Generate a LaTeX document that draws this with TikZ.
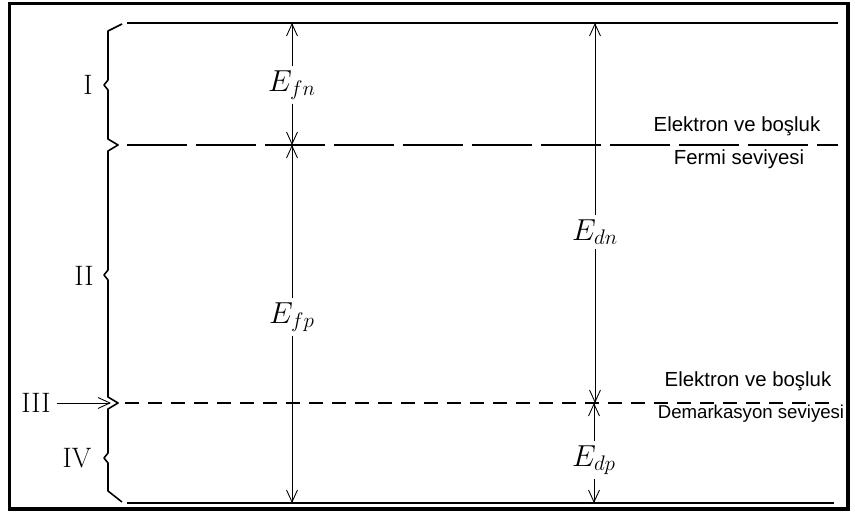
\documentclass[tikz,border=0pt]{standalone}
\usepackage{fontspec}
\newfontfamily\notefont{Liberation Sans}
\usetikzlibrary{arrows.meta, positioning}

\tikzset{
    % level lines
    level/.style={line width=1.1pt, draw=black},
    fermilevel/.style={level, line width=0.9pt, dash pattern=on 1.2cm off 0.18cm},
    demlevel/.style={level, line width=0.9pt, dash pattern=on 0.28cm off 0.18cm},
    % energy spans
    span/.style={-{Straight Barb[length=2.4mm, width=2.2mm]}, line width=0.5pt},
    energy/.style={inner sep=2pt, font=\fontsize{17}{20}\selectfont},
    region/.style={inner sep=1pt, font=\fontsize{16}{19}\selectfont},
    note/.style={inner sep=1pt, font=\notefont\fontsize{11.6}{14}\selectfont},
    brace/.style={line width=0.9pt, line join=round},
    frame/.style={line width=1.8pt}
}

\begin{document}
\begin{tikzpicture}[x=0.02cm, y=-0.02cm]
    \useasboundingbox (0,0) rectangle (855,519);
    \draw[frame] (9.5,3.5) rectangle (848,509);

    % level end points
    \coordinate (top-l) at (127,23);
    \coordinate (top-r) at (838,23);
    \coordinate (fermi-l) at (127,145);
    \coordinate (fermi-r) at (838,145);
    \coordinate (dem-l) at (125,403);
    \coordinate (dem-r) at (836,403);
    \coordinate (bot-l) at (127,503);
    \coordinate (bot-r) at (834,503);

    \draw[level] (top-l) -- (top-r);
    \draw[fermilevel] (fermi-l) -- (fermi-r);
    \draw[demlevel] (dem-l) -- (dem-r);
    \draw[level] (bot-l) -- (bot-r);

    % braces
    \draw[brace] (122,24) -- (108,31) -- (108,80) -- (104,85) -- (108,90)
        -- (108,139) -- (118,145) -- (108,151) -- (108,270) -- (104,275)
        -- (108,280) -- (108,397) -- (118,403) -- (108,409) -- (108,453)
        -- (104,458) -- (108,463) -- (108,491) -- (122,502);

    \node[region] (lvlI) at (88,85) {I};
    \node[region] (lvlII) at (84,276) {II};
    \node[region] (lvlIII) at (36,403) {III};
    \node[region] (lvlIV) at (77,458) {IV};
    \coordinate (cusp) at (111,403);
    \draw[span] (lvlIII.east) ++(4,0) -- (cusp);

    % energy spans
    \node[energy] (efn) at (292,85) {$E_{fn}$};
    \node[energy] (efp) at (292,317) {$E_{fp}$};
    \node[energy] (edn) at (595,232) {$E_{dn}$};
    \node[energy] (edp) at (594,460) {$E_{dp}$};

    \draw[span] (efn) -- (efn |- top-l);
    \draw[span] (efn) -- (efn |- fermi-l);
    \draw[span] (efp) -- (efp |- fermi-l);
    \draw[span] (efp) -- (efp |- bot-l);
    \draw[span] (edn) -- (edn |- top-l);
    \draw[span] (edn) -- (edn |- dem-l);
    \draw[span] (edp) -- (edp |- dem-l);
    \draw[span] (edp) -- (edp |- bot-l);

    % level names
    \node[note] (fermiA) at (737,126) {Elektron ve boşluk};
    \node[note] (fermiB) at (739,159) {Fermi seviyesi};
    \node[note] (demA) at (748,381) {Elektron ve boşluk};
    \node[note, font=\notefont\fontsize{10.6}{13}\selectfont] (demB) at (751,414) {Demarkasyon seviyesi};
\end{tikzpicture}
\end{document}
